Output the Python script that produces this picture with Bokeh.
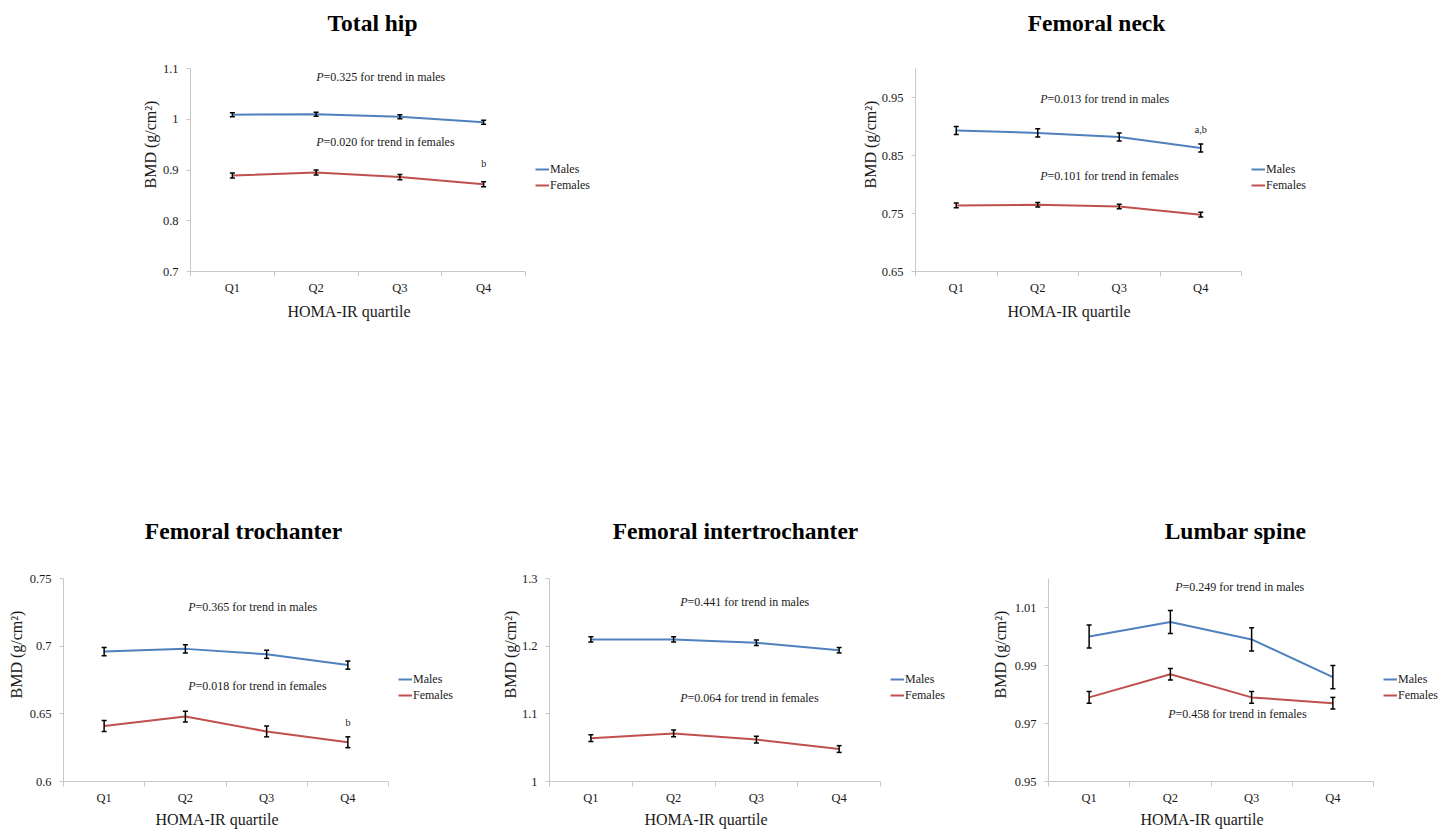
from bokeh.plotting import figure
from bokeh.models import (ColumnDataSource, Whisker, TeeHead, FixedTicker, Range1d,
                          Legend, LegendItem, Title)
from bokeh.layouts import column, row
from bokeh.embed import file_html
from bokeh.resources import INLINE
from bokeh.core.properties import value

# ---------------- data ----------------
quartiles = ["Q1", "Q2", "Q3", "Q4"]

hip_males = [1.009, 1.010, 1.005, 0.994]
hip_females = [0.889, 0.895, 0.886, 0.872]
hip_males_err = [0.004, 0.004, 0.004, 0.004]
hip_females_err = [0.005, 0.005, 0.005, 0.005]
hip_yticks = [0.7, 0.8, 0.9, 1.0, 1.1]
hip_ylabels = ["0.7", "0.8", "0.9", "1", "1.1"]

neck_males = [0.893, 0.889, 0.882, 0.863]
neck_females = [0.764, 0.765, 0.762, 0.748]
neck_males_err = [0.007, 0.007, 0.007, 0.007]
neck_females_err = [0.004, 0.004, 0.004, 0.004]
neck_yticks = [0.65, 0.75, 0.85, 0.95]
neck_ylabels = ["0.65", "0.75", "0.85", "0.95"]

troch_males = [0.696, 0.698, 0.694, 0.686]
troch_females = [0.641, 0.648, 0.637, 0.629]
troch_males_err = [0.003, 0.003, 0.003, 0.003]
troch_females_err = [0.004, 0.004, 0.004, 0.004]
troch_yticks = [0.6, 0.65, 0.7, 0.75]
troch_ylabels = ["0.6", "0.65", "0.7", "0.75"]

inter_males = [1.210, 1.210, 1.205, 1.194]
inter_females = [1.064, 1.071, 1.062, 1.048]
inter_males_err = [0.004, 0.004, 0.004, 0.004]
inter_females_err = [0.005, 0.005, 0.005, 0.005]
inter_yticks = [1.0, 1.1, 1.2, 1.3]
inter_ylabels = ["1", "1.1", "1.2", "1.3"]

spine_males = [1.000, 1.005, 0.999, 0.986]
spine_females = [0.979, 0.987, 0.979, 0.977]
spine_males_err = [0.004, 0.004, 0.004, 0.004]
spine_females_err = [0.002, 0.002, 0.002, 0.002]
spine_yticks = [0.95, 0.97, 0.99, 1.01]
spine_ylabels = ["0.95", "0.97", "0.99", "1.01"]

p_males = ["=0.325 for trend in males", "=0.013 for trend in males", "=0.365 for trend in males",
           "=0.441 for trend in males", "=0.249 for trend in males"]
p_females = ["=0.020 for trend in females", "=0.101 for trend in females", "=0.018 for trend in females",
             "=0.064 for trend in females", "=0.458 for trend in females"]

# ---------------- style ----------------
FONT = "Liberation Serif"
BLUE = "#4F81BD"
RED = "#C0504D"
AXIS = "#C8C8C8"
TXT = "#1a1a1a"
AH = 203  # plotted axis height in px


def make_panel(title, males, females, m_err, f_err, yticks, ylabels, ylo, yhi,
               fig_x, fig_y, fig_w, fig_h, ax_left, ax_w, ax_top, title_c,
               pm_pos, pf_pos, pm_text, pf_text, note, xlab_off, ylab_so,
               xlab_valign, xlab_so):
    x = [1, 2, 3, 4]
    left = ax_left - fig_x
    top = ax_top - fig_y
    bottom = fig_h - top - AH
    right = fig_w - left - ax_w
    cw = ax_w / 4.0
    ppu = AH / (yhi - ylo)
    x_end = 4.5 + right / cw
    y_end = yhi + top / ppu

    p = figure(width=fig_w, height=fig_h, x_range=Range1d(0.5, x_end),
               y_range=Range1d(ylo, y_end), output_backend="svg", toolbar_location=None,
               min_border_left=left, min_border_right=0,
               min_border_top=0, min_border_bottom=bottom)
    p.outline_line_color = None
    p.xgrid.visible = False
    p.ygrid.visible = False
    p.background_fill_color = "white"
    p.border_fill_color = "white"

    # x axis
    xa = p.xaxis[0]
    xa.bounds = (0.5, 4.5)
    xa.ticker = FixedTicker(ticks=x, minor_ticks=[0.5, 1.5, 2.5, 3.5, 4.5])
    xa.major_label_overrides = {i + 1: q for i, q in enumerate(quartiles)}
    xa.major_tick_out = 0
    xa.major_tick_in = 0
    xa.minor_tick_out = 5
    xa.minor_tick_in = 0
    xa.minor_tick_line_color = AXIS
    xa.axis_line_color = AXIS
    xa.major_label_text_font = FONT
    xa.major_label_text_font_size = "12.5px"
    xa.major_label_text_color = TXT
    xa.major_label_standoff = 4
    p.add_layout(Title(text="HOMA-IR quartile", align="left", offset=xlab_off, standoff=xlab_so,
                       vertical_align=xlab_valign, text_font=FONT, text_font_style="normal",
                       text_font_size="16px", text_color=TXT), "below")

    # y axis
    ya = p.yaxis[0]
    ya.bounds = (ylo, yhi)
    ya.ticker = FixedTicker(ticks=yticks)
    ya.major_label_overrides = {v: s for v, s in zip(yticks, ylabels)}
    ya.major_tick_out = 4
    ya.major_tick_in = 0
    ya.minor_tick_out = 0
    ya.minor_tick_in = 0
    ya.major_tick_line_color = AXIS
    ya.axis_line_color = AXIS
    ya.major_label_text_font = FONT
    ya.major_label_text_font_size = "12.5px"
    ya.major_label_text_color = TXT
    ya.major_label_standoff = 8
    p.add_layout(Title(text="BMD (g/cm²)", align="left", offset=83,
                       standoff=ylab_so, text_font=FONT, text_font_style="normal",
                       text_font_size="16px", text_color=TXT), "left")

    # panel title (inside the extended frame)
    tx = 0.5 + (title_c[0] - ax_left) / cw
    ty = yhi + (ax_top - title_c[1]) / ppu
    p.text(x=[tx], y=[ty], text=[title], text_font=value(FONT), text_font_style="bold",
           text_font_size="23.5px", text_align="center", text_baseline="middle", text_color="black")

    rm = p.line(x, males, line_color=BLUE, line_width=2)
    rf = p.line(x, females, line_color=RED, line_width=2)

    for vals, err in ((males, m_err), (females, f_err)):
        src = ColumnDataSource(dict(x=x, upper=[v + e for v, e in zip(vals, err)],
                                    lower=[v - e for v, e in zip(vals, err)]))
        w = Whisker(source=src, base="x", upper="upper", lower="lower",
                    line_color="black", line_width=1.5, level="overlay",
                    upper_head=TeeHead(size=5, line_color="black", line_width=1.5),
                    lower_head=TeeHead(size=5, line_color="black", line_width=1.5))
        p.add_layout(w)

    # P-value annotations: italic P + rest
    for (px, py), txt in ((pm_pos, pm_text), (pf_pos, pf_text)):
        p.text(x=[px], y=[py], text=["P"], text_font=value(FONT), text_font_style="italic",
               text_font_size="12px", text_align="right", text_baseline="middle", text_color=TXT)
        p.text(x=[px], y=[py], text=[txt], text_font=value(FONT), text_font_style="normal",
               text_font_size="12px", text_align="left", text_baseline="middle", text_color=TXT)
    if note is not None:
        (nx, ny), ntxt = note
        p.text(x=[nx], y=[ny], text=[ntxt], text_font=value(FONT), text_font_size="10px",
               text_align="center", text_baseline="middle", text_color=TXT)

    legend = Legend(items=[LegendItem(label="Males", renderers=[rm]),
                           LegendItem(label="Females", renderers=[rf])],
                    location=(ax_w + 10, 78), orientation="vertical",
                    glyph_width=14, glyph_height=16, label_height=16, spacing=0,
                    label_standoff=1, padding=0, margin=0,
                    label_text_font=FONT, label_text_font_size="12px", label_text_color=TXT,
                    background_fill_alpha=0, border_line_alpha=0)
    p.add_layout(legend)
    return p


f1 = make_panel("Total hip", hip_males, hip_females, hip_males_err, hip_females_err,
                hip_yticks, hip_ylabels, 0.7, 1.1,
                fig_x=0, fig_y=0, fig_w=700, fig_h=490, ax_left=190, ax_w=335, ax_top=68,
                title_c=(372, 22),
                pm_pos=(2.088, 1.0823), pf_pos=(2.088, 0.9542),
                pm_text=p_males[0], pf_text=p_females[0], note=((4.0, 0.9128), "b"),
                xlab_off=97, ylab_so=2, xlab_valign="top", xlab_so=10)
f2 = make_panel("Femoral neck", neck_males, neck_females, neck_males_err, neck_females_err,
                neck_yticks, neck_ylabels, 0.65, 1.0,
                fig_x=700, fig_y=0, fig_w=752, fig_h=490, ax_left=915, ax_w=326, ax_top=68,
                title_c=(1096, 22),
                pm_pos=(2.12, 0.948), pf_pos=(2.12, 0.8138),
                pm_text=p_males[1], pf_text=p_females[1], note=((4.0, 0.8948), "a,b"),
                xlab_off=92, ylab_so=0, xlab_valign="top", xlab_so=10)
f3 = make_panel("Femoral trochanter", troch_males, troch_females, troch_males_err, troch_females_err,
                troch_yticks, troch_ylabels, 0.6, 0.75,
                fig_x=0, fig_y=490, fig_w=470, fig_h=340, ax_left=63, ax_w=325, ax_top=578,
                title_c=(243, 530),
                pm_pos=(2.125, 0.7286), pf_pos=(2.125, 0.6702),
                pm_text=p_males[2], pf_text=p_females[2], note=((4.0, 0.6436), "b"),
                xlab_off=92, ylab_so=4, xlab_valign="bottom", xlab_so=2)
f4 = make_panel("Femoral intertrochanter", inter_males, inter_females, inter_males_err, inter_females_err,
                inter_yticks, inter_ylabels, 1.0, 1.3,
                fig_x=470, fig_y=490, fig_w=490, fig_h=340, ax_left=549, ax_w=331, ax_top=578,
                title_c=(735, 530),
                pm_pos=(2.168, 1.266), pf_pos=(2.168, 1.1227),
                pm_text=p_males[3], pf_text=p_females[3], note=None,
                xlab_off=95, ylab_so=0, xlab_valign="bottom", xlab_so=2)
f5 = make_panel("Lumbar spine", spine_males, spine_females, spine_males_err, spine_females_err,
                spine_yticks, spine_ylabels, 0.95, 1.02,
                fig_x=960, fig_y=490, fig_w=492, fig_h=340, ax_left=1048, ax_w=325, ax_top=578,
                title_c=(1235, 530),
                pm_pos=(2.149, 1.0169), pf_pos=(2.063, 0.9734),
                pm_text=p_males[4], pf_text=p_females[4], note=None,
                xlab_off=92, ylab_so=6, xlab_valign="bottom", xlab_so=2)

layout = column(row(f1, f2, spacing=0), row(f3, f4, f5, spacing=0), spacing=0)
open("out.html", "w").write(file_html(layout, INLINE))
